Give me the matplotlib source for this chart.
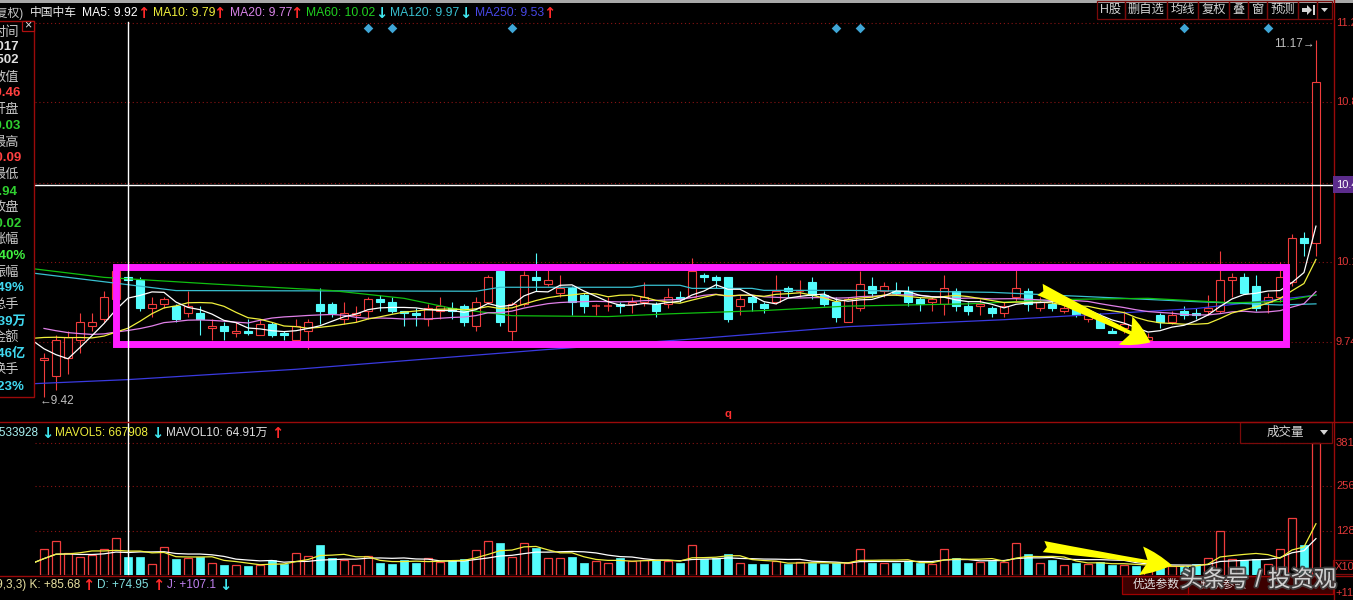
import numpy as np
import pandas as pd
import matplotlib
matplotlib.use("Agg")
import matplotlib.pyplot as plt
from matplotlib.patches import Rectangle, FancyArrowPatch, Polygon
from matplotlib import font_manager, transforms
import matplotlib.patheffects as pe

# ---------------- data ----------------
start_index = 3          # first visible candle index
opens = [9.66, 9.59, 9.67, 9.75, 9.81, 9.84, 9.93, 10.03, 10.02, 9.89,
         9.91, 9.90, 9.87, 9.87, 9.80, 9.81, 9.78, 9.79, 9.77, 9.82,
         9.78, 9.75, 9.79, 9.91, 9.91, 9.84, 9.86, 9.88, 9.93, 9.92,
         9.88, 9.87, 9.84, 9.88, 9.89, 9.90, 9.81, 9.92, 10.06, 9.79,
         9.91, 10.03, 10.00, 9.96, 9.98, 9.95, 9.90, 9.90, 9.91, 9.91,
         9.92, 9.91, 9.91, 9.94, 9.94, 10.04, 10.03, 10.03, 9.90, 9.94,
         9.91, 9.92, 9.98, 9.97, 10.01, 9.95, 9.92, 9.83, 9.89, 9.99,
         9.97, 9.97, 9.97, 9.93, 9.92, 9.91, 9.97, 9.90, 9.90, 9.89,
         9.87, 9.94, 9.97, 9.89, 9.91, 9.88, 9.89, 9.84, 9.84, 9.79,
         9.80, 9.79, 9.75, 9.86, 9.83, 9.88, 9.87, 9.88, 9.88, 10.02,
         10.03, 9.99, 9.92, 9.94, 10.01, 10.21, 10.19]
highs = [9.69, 9.77, 9.79, 9.87, 9.87, 9.97, 10.08, 10.09, 10.03, 9.94,
         9.94, 9.91, 9.97, 9.90, 9.84, 9.83, 9.83, 9.84, 9.84, 9.83,
         9.79, 9.84, 9.84, 9.98, 9.92, 9.92, 9.90, 9.94, 9.95, 9.94,
         9.88, 9.89, 9.91, 9.94, 9.92, 9.91, 9.94, 10.04, 10.08, 9.92,
         10.06, 10.14, 10.07, 10.04, 9.99, 9.96, 9.91, 9.94, 9.92, 9.94,
         10.01, 9.92, 9.98, 9.97, 10.12, 10.05, 10.04, 10.03, 9.95, 9.95,
         9.92, 10.04, 9.99, 10.02, 10.03, 9.97, 9.94, 9.94, 10.06, 10.03,
         10.01, 10.01, 9.99, 9.94, 9.94, 10.04, 9.98, 9.92, 9.93, 9.90,
         9.92, 10.07, 9.98, 9.94, 9.94, 9.91, 9.90, 9.87, 9.87, 9.80,
         9.88, 9.80, 9.78, 9.87, 9.88, 9.90, 9.89, 9.95, 10.15, 10.05,
         10.05, 10.04, 9.96, 10.10, 10.23, 10.24, 11.17]
lows = [9.50, 9.53, 9.60, 9.69, 9.79, 9.83, 9.91, 9.94, 9.88, 9.85,
        9.89, 9.83, 9.85, 9.77, 9.75, 9.75, 9.76, 9.77, 9.77, 9.76,
        9.75, 9.75, 9.71, 9.82, 9.85, 9.82, 9.83, 9.84, 9.88, 9.87,
        9.81, 9.81, 9.81, 9.84, 9.84, 9.81, 9.79, 9.91, 9.81, 9.75,
        9.90, 9.97, 9.99, 9.94, 9.86, 9.87, 9.86, 9.88, 9.87, 9.87,
        9.90, 9.85, 9.89, 9.92, 9.94, 10.01, 9.98, 9.83, 9.86, 9.88,
        9.87, 9.91, 9.94, 9.94, 9.93, 9.90, 9.83, 9.83, 9.88, 9.94,
        9.94, 9.95, 9.90, 9.88, 9.88, 9.86, 9.88, 9.86, 9.86, 9.85,
        9.85, 9.92, 9.88, 9.88, 9.88, 9.87, 9.85, 9.83, 9.80, 9.78,
        9.78, 9.75, 9.74, 9.80, 9.82, 9.84, 9.84, 9.86, 9.87, 9.94,
        9.96, 9.88, 9.87, 9.92, 9.99, 10.13, 10.13]
closes = [9.67, 9.75, 9.76, 9.83, 9.83, 9.94, 10.06, 10.02, 9.89, 9.91,
          9.93, 9.84, 9.90, 9.84, 9.81, 9.79, 9.79, 9.78, 9.82, 9.77,
          9.77, 9.81, 9.83, 9.88, 9.87, 9.87, 9.87, 9.93, 9.92, 9.88,
          9.87, 9.86, 9.89, 9.90, 9.88, 9.83, 9.92, 10.03, 9.83, 9.91,
          10.04, 10.02, 10.02, 9.98, 9.92, 9.90, 9.90, 9.90, 9.90, 9.92,
          9.94, 9.88, 9.94, 9.93, 10.06, 10.03, 10.02, 9.84, 9.93, 9.92,
          9.89, 9.97, 9.97, 9.97, 9.95, 9.91, 9.85, 9.93, 10.00, 9.96,
          9.99, 9.96, 9.92, 9.91, 9.93, 9.98, 9.90, 9.88, 9.91, 9.87,
          9.90, 9.98, 9.91, 9.92, 9.89, 9.89, 9.86, 9.86, 9.80, 9.78,
          9.82, 9.76, 9.76, 9.83, 9.86, 9.86, 9.86, 9.89, 10.02, 10.03,
          9.96, 9.89, 9.94, 10.03, 10.21, 10.19, 10.96]
volumes = [75, 98, 64, 52, 58, 75, 107, 53.39, 52, 32,
           81, 46, 49, 52, 35, 29, 29, 26, 29, 43,
           32, 64, 55, 87, 49, 43, 29, 55, 35, 32,
           43, 35, 49, 38, 43, 46, 72, 98, 92, 52,
           92, 78, 49, 49, 52, 35, 40, 35, 49, 40,
           43, 43, 40, 35, 87, 46, 49, 61, 35, 32,
           32, 40, 32, 38, 35, 32, 35, 35, 75, 35,
           35, 35, 40, 35, 32, 75, 49, 35, 38, 40,
           38, 92, 61, 35, 43, 29, 35, 32, 38, 29,
           29, 26, 22, 24, 26, 26, 32, 49, 127, 46,
           43, 46, 32, 75, 165, 87, 381]          # 万手

# closes / volumes before the visible window (used only to warm up the averages)
prior_closes = [9.95, 9.93, 9.92, 9.90, 9.89, 9.90, 9.88, 9.72, 9.68, 9.63,
                9.74, 9.78, 9.82, 9.85, 9.86, 9.88, 9.85, 9.58, 9.57]
prior_volumes = [35, 32]

# long moving averages, read at knots
ma60_idx = [2, 8, 17, 27, 33, 37, 42, 50, 55, 63, 70, 80, 88, 95, 102, 106, 109]
ma60_val = [10.07, 10.03, 10.00, 9.97, 9.935, 9.89, 9.857, 9.853, 9.865, 9.88,
            9.90, 9.91, 9.93, 9.935, 9.915, 9.92, 9.95]
ma120_idx = [2, 8, 14, 39, 41, 52, 53, 56, 57, 62, 63, 70, 82, 91, 99, 106, 109]
ma120_val = [10.05, 10.01, 9.97, 9.967, 9.985, 9.985, 9.994, 9.994, 9.98, 9.98,
             9.971, 9.971, 9.962, 9.94, 9.92, 9.905, 9.91]
ma250_idx = [2, 10, 24, 45, 57, 70, 83, 99, 109]
ma250_val = [9.557, 9.575, 9.62, 9.707, 9.753, 9.808, 9.839, 9.889, 9.949]

signal_idx = [30, 32, 42, 69, 71, 98, 105]
price_ticks = [11.26, 10.86, 10.47, 10.10, 9.74]
vol_ticks = [381, 256, 128]
cursor_index = 10
cursor_value = 10.46

# ---------------- style ----------------
W, H = 1353, 600
RED = '#f03c3c'
CYAN = '#54fcfc'
GRID = '#8a1414'
BORDER = '#9a0a0a'

avail = {f.name for f in font_manager.fontManager.ttflist}
LATIN = 'Liberation Sans' if 'Liberation Sans' in avail else 'DejaVu Sans'
NARROW = 'Liberation Sans Narrow' if 'Liberation Sans Narrow' in avail else LATIN
NARROW_SIZE = 9 if NARROW != LATIN else 8.0
plt.rcParams['font.family'] = [LATIN, 'Noto Sans CJK SC', 'DejaVu Sans']

fig = plt.figure(figsize=(W / 100, H / 100), dpi=100, facecolor='black')


def px_axes(x0, y0, x1, y1):
    return fig.add_axes([x0 / W, 1 - y1 / H, (x1 - x0) / W, (y1 - y0) / H])


n = len(closes)
idx = np.arange(start_index, start_index + n)
o = np.array(opens); h = np.array(highs); l = np.array(lows); c = np.array(closes)
v = np.array(volumes)
up = c >= o

# ---------------- price panel ----------------
ax = px_axes(35, 22, 1333, 420)
ax.set_yscale('log')
ax.set_xlim(2.25, 110.42)
ax.set_ylim(9.401, 11.263)
ax.set_axis_off()

for t in price_ticks:
    ax.axhline(t, color=GRID, lw=0.8, ls=(0, (1, 2.5)), zorder=1)

bw = 0.68
for i, oo, hh, ll, cc, u in zip(idx, o, h, l, c, up):
    col = RED if u else CYAN
    ax.vlines(i, ll, hh, color=col, lw=0.8, zorder=3)
    lo_, hi_ = min(oo, cc), max(oo, cc)
    if hi_ - lo_ < 0.005:
        ax.hlines(cc, i - bw / 2, i + bw / 2, color=col, lw=1.1, zorder=4)
    else:
        ax.add_patch(Rectangle((i - bw / 2, lo_), bw, hi_ - lo_,
                               facecolor='black' if u else CYAN,
                               edgecolor=col, lw=0.8, zorder=4))

all_c = pd.Series(prior_closes + closes,
                  index=np.arange(start_index - len(prior_closes), start_index + n))
ma5 = all_c.rolling(5).mean().loc[2:]
ma10 = all_c.rolling(10).mean().loc[2:]
ma20 = all_c.rolling(20).mean().loc[2:]

ax.plot(ma250_idx, ma250_val, color='#3a3ae0', lw=0.9, zorder=5)
ax.plot(ma120_idx, ma120_val, color='#38c0d0', lw=0.9, zorder=5)
ax.plot(ma60_idx, ma60_val, color='#10c010', lw=0.9, zorder=5)
ax.plot(ma20.index, ma20.values, color='#e080e8', lw=0.9, zorder=5)
ax.plot(ma10.index, ma10.values, color='#f0f03c', lw=0.9, zorder=5)
ax.plot(ma5.index, ma5.values, color='#ffffff', lw=0.9, zorder=5)

ax.scatter(signal_idx, [11.23] * len(signal_idx), marker='D', s=24,
           color='#3fa6d6', zorder=6, linewidths=0)

# cursor horizontal line
ax.axhline(cursor_value, color='white', lw=1.0, zorder=6)

# magenta frame
ax.add_patch(Rectangle((9.04, 9.731), 106.5 - 9.04, 10.075 - 9.731, fill=False,
                       edgecolor='#ff1eff', lw=5.0, zorder=7, joinstyle='miter'))
# yellow arrow (price)
ax.add_patch(FancyArrowPatch((86.0, 9.975), (95.2, 9.738),
                             arrowstyle='fancy,head_length=1.1,head_width=1.25,tail_width=0.5',
                             mutation_scale=18, color='#ffff00', lw=0,
                             shrinkA=0, shrinkB=0, zorder=8))

# ---------------- volume panel ----------------
vx = px_axes(35, 440, 1333, 575)
vx.set_xlim(2.25, 110.42)
vx.set_ylim(0, 381 * 135 / 132)
vx.set_axis_off()
for t in vol_ticks:
    vx.axhline(t, color=GRID, lw=0.8, ls=(0, (1, 2.5)), zorder=1)
vx.bar(idx[up], v[up], width=bw, facecolor='black', edgecolor=RED, lw=0.9, zorder=3)
vx.bar(idx[~up], v[~up], width=bw, facecolor=CYAN, edgecolor=CYAN, lw=0.5, zorder=3)
all_v = pd.Series(prior_volumes + volumes, index=np.arange(1, start_index + n))
mv5 = all_v.rolling(5, min_periods=1).mean().loc[2:]
mv10 = all_v.rolling(10, min_periods=1).mean().loc[2:]
vx.plot(mv10.index, mv10.values, color='#ffffff', lw=0.9, zorder=5)
vx.plot(mv5.index, mv5.values, color='#f0f03c', lw=0.9, zorder=5)
vx.add_patch(FancyArrowPatch((86.3, 82), (97.0, 28),
                             arrowstyle='fancy,head_length=1.25,head_width=1.15,tail_width=0.45',
                             mutation_scale=18, color='#ffff00', lw=0,
                             shrinkA=0, shrinkB=0, zorder=8))

# ---------------- UI overlay (pixel coordinates) ----------------
ui = fig.add_axes([0, 0, 1, 1])
ui.set_xlim(0, W)
ui.set_ylim(H, 0)
ui.set_axis_off()
ui.set_zorder(10)

blend_x = transforms.blended_transform_factory(ax.transData, ui.transData)
blend_py = transforms.blended_transform_factory(ui.transData, ax.transData)
blend_vy = transforms.blended_transform_factory(ui.transData, vx.transData)


def T(x, y, s, color, size=8.5, ha='left', weight='normal', **kw):
    return ui.text(x, y, s, color=color, fontsize=size, ha=ha, va='center',
                   fontweight=weight, **kw)


def ARW(x, y, s, color):
    return ui.text(x, y, s, color=color, fontsize=10.5, ha='left', va='center',
                   fontweight='bold', family='DejaVu Sans')


# cursor vertical line
ui.plot([cursor_index, cursor_index], [22, 574], color='white', lw=1.0,
        transform=blend_x, zorder=1)

# top strip
ui.add_patch(Rectangle((0, 0), W, 3, color='#a8a8a8', lw=0))

# separators
ui.plot([1333.5, 1333.5], [0, H], color=BORDER, lw=1.0)
ui.plot([0, W], [421.5, 421.5], color=BORDER, lw=1.0)
ui.plot([0, W], [575.5, 575.5], color=BORDER, lw=1.0)

# header
T(24, 13, '前复权)', '#c8c8c8', ha='right')
T(30, 13, '中国中车', '#e8e8e8')
header = [(82, 'MA5: 9.92', '#ffffff', 137, '↑', '#ff2a2a'),
          (153, 'MA10: 9.79', '#f0f03c', 213, '↑', '#ff2a2a'),
          (230, 'MA20: 9.77', '#d884e8', 290, '↑', '#ff2a2a'),
          (306, 'MA60: 10.02', '#20d020', 375, '↓', '#40e8f0'),
          (390, 'MA120: 9.97', '#38c0d0', 459, '↓', '#40e8f0'),
          (475, 'MA250: 9.53', '#4848e8', 543, '↑', '#ff2a2a')]
for x0, s, col, xa, arr, acol in header:
    T(x0, 13, s, col, size=8.7)
    ARW(xa, 13, arr, acol)

# toolbar
tb_edges = [1097, 1125, 1167, 1198, 1229, 1248, 1267, 1298, 1317, 1332]
tb_labels = ['H股', '删自选', '均线', '复权', '叠', '窗', '预测', '', '']
for x0, x1, s in zip(tb_edges[:-1], tb_edges[1:], tb_labels):
    ui.add_patch(Rectangle((x0, 1), x1 - x0, 18, fill=False, edgecolor='#7a0a0a', lw=0.9))
    if s:
        T((x0 + x1) / 2, 10, s, '#d4d4d4', size=8.8, ha='center')
ui.add_patch(Polygon([(1302, 8), (1307, 8), (1307, 5), (1312, 10), (1307, 15),
                      (1307, 12), (1302, 12)], closed=True, color='#d4d4d4', lw=0))
ui.add_patch(Rectangle((1313, 5), 2, 10, color='#d4d4d4', lw=0))
ui.add_patch(Polygon([(1321, 8), (1328, 8), (1324.5, 12)], closed=True, color='#d4d4d4', lw=0))

# left info panel
ui.add_patch(Rectangle((-2, 21), 36, 376, facecolor='black', edgecolor=BORDER, lw=1.0, zorder=2))
ui.add_patch(Rectangle((22, 21), 12, 10, facecolor='black', edgecolor='#b01010', lw=0.9, zorder=3))
T(28, 25.5, '×', '#e0e0e0', size=9, ha='center', zorder=4)
LBL = '#c8c8c8'
panel = [(19, 33, '时间', LBL, 'normal'),
         (19, 47, '2017', '#e0e0e0', 'bold'),
         (19, 60, '0502', '#e0e0e0', 'bold'),
         (19, 77, '数值', LBL, 'normal'),
         (21, 93, '10.46', '#ff4040', 'bold'),
         (19, 110, '开盘', LBL, 'normal'),
         (21, 126, '10.03', '#30d030', 'bold'),
         (19, 143, '最高', LBL, 'normal'),
         (21, 158, '10.09', '#ff4040', 'bold'),
         (19, 175, '最低', LBL, 'normal'),
         (18, 192, '9.94', '#30d030', 'bold'),
         (19, 208, '收盘', LBL, 'normal'),
         (21, 224, '10.02', '#30d030', 'bold'),
         (19, 240, '涨幅', LBL, 'normal'),
         (26, 256, '-0.40%', '#40f040', 'bold'),
         (19, 273, '振幅', LBL, 'normal'),
         (24, 288, '1.49%', '#40d8f0', 'bold'),
         (19, 305, '总手', LBL, 'normal'),
         (26, 322, '53.39万', '#40d8f0', 'bold'),
         (19, 337, '金额', LBL, 'normal'),
         (26, 354, '5.46亿', '#40d8f0', 'bold'),
         (19, 370, '换手', LBL, 'normal'),
         (24, 387, '0.23%', '#40d8f0', 'bold')]
for x, y, s, col, wgt in panel:
    T(x, y, s, col, size=9.5, ha='right', weight=wgt, zorder=4)

# extreme labels
T(40, 401, '←9.42', '#c0c0c0', size=8.5)
T(1315, 44, '11.17→', '#c0c0c0', size=8.5, ha='right')
T(728, 414, 'q', '#ff3030', size=8, ha='center', weight='bold')

# price axis labels
for t in price_ticks:
    ui.text(1336, t, f'{t:.2f}', color='#e03838', fontsize=NARROW_SIZE, va='center',
            family=NARROW, transform=blend_py, clip_on=False)
ui.text(1336, cursor_value, f'{cursor_value:.2f}', color='white', fontsize=NARROW_SIZE,
        va='center', family=NARROW, transform=blend_py, zorder=5,
        bbox=dict(facecolor='#5c2c8c', edgecolor='none', pad=2.5))

# volume header
T(38, 433, 'VOL: 533928', '#a8f0f0', ha='right')
ARW(41, 433, '↓', '#40e8f0')
T(55, 433, 'MAVOL5: 667908', '#f0f03c')
ARW(151, 433, '↓', '#40e8f0')
T(166, 433, 'MAVOL10: 64.91万', '#e0e0e0')
ARW(271, 433, '↑', '#ff2a2a')
ui.add_patch(Rectangle((1240, 422), 92, 21, fill=False, edgecolor='#7a0a0a', lw=0.9))
T(1285, 433, '成交量', '#d4d4d4', size=9, ha='center')
ui.add_patch(Polygon([(1320, 430), (1328, 430), (1324, 435)], closed=True, color='#d4d4d4', lw=0))

# volume axis labels
for t in vol_ticks:
    ui.text(1336, t, f'{t}', color='#e03838', fontsize=NARROW_SIZE, va='center',
            family=NARROW, transform=blend_vy)
ui.add_patch(Rectangle((1333, 560), 22, 14, fill=False, edgecolor='#7a0a0a', lw=0.9))
ui.text(1335, 567, 'X10000', color='#e03838', fontsize=NARROW_SIZE, va='center', family=NARROW)
ui.text(1335, 593, '+11', color='#e03838', fontsize=NARROW_SIZE, va='center', family=NARROW)

# KDJ row
T(80, 585, 'KDJ(9,3,3) K: +85.68', '#e8e0a0', ha='right')
ARW(82, 585, '↑', '#ff2a2a')
T(97, 585, 'D: +74.95', '#80e0e0')
ARW(152, 585, '↑', '#ff2a2a')
T(167, 585, 'J: +107.1', '#c080f0')
ARW(219, 585, '↓', '#40e8f0')

# bottom-right parameter box
ui.add_patch(Rectangle((1122, 576), 211, 18, facecolor='#3c0000', edgecolor='#a00000', lw=0.9))
ui.plot([1188, 1188], [576, 594], color='#a00000', lw=0.9)
T(1133, 585, '优选参数', '#e0e0e0', size=8.5)
T(1200, 585, '默认参数', '#e0e0e0', size=8.5)

# watermark
wm = T(1180, 580, '头条号 / 投资观', '#dcdcdc', size=16.5, alpha=0.92)
wm.set_path_effects([pe.withStroke(linewidth=2.5, foreground='#404040')])

fig.savefig('out.png', dpi=100, facecolor='black')
